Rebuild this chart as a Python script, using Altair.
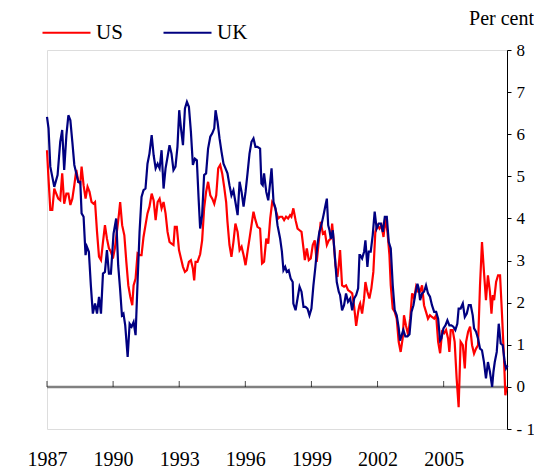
import altair as alt
import pandas as pd

# ---- data ----
uk_year = [1987.00, 1987.07, 1987.15, 1987.33, 1987.48, 1987.60, 1987.69, 1987.78, 1987.88, 1987.97,
           1988.06, 1988.15, 1988.24, 1988.33, 1988.42, 1988.51, 1988.57, 1988.66, 1988.75, 1988.81,
           1988.90, 1988.99, 1989.08, 1989.18, 1989.27, 1989.36, 1989.45, 1989.54, 1989.63, 1989.72,
           1989.81, 1989.90, 1990.02, 1990.14, 1990.23, 1990.32,
           1990.40, 1990.47, 1990.55, 1990.66, 1990.75, 1990.84, 1990.93, 1991.02, 1991.11, 1991.20,
           1991.29, 1991.38, 1991.47, 1991.56, 1991.65, 1991.75, 1991.84, 1991.93, 1992.02, 1992.11,
           1992.20, 1992.29, 1992.38, 1992.47, 1992.56, 1992.65, 1992.74, 1992.83, 1992.92, 1993.00,
           1993.08, 1993.17, 1993.26, 1993.35, 1993.44, 1993.53, 1993.62, 1993.71, 1993.80, 1993.88,
           1993.95,
           1994.04, 1994.13, 1994.22, 1994.31, 1994.41, 1994.50, 1994.59, 1994.65, 1994.74, 1994.83,
           1994.92, 1995.01, 1995.10, 1995.19, 1995.28, 1995.37, 1995.46, 1995.55, 1995.65, 1995.74,
           1995.83, 1995.92, 1996.01, 1996.10, 1996.19, 1996.28, 1996.37, 1996.46, 1996.55, 1996.67,
           1996.73, 1996.79, 1996.85, 1996.95, 1997.04, 1997.13, 1997.19, 1997.28, 1997.37, 1997.46,
           1997.55,
           1997.58, 1997.66, 1997.73, 1997.81, 1997.88, 1997.97, 1998.06, 1998.15, 1998.18, 1998.28,
           1998.37, 1998.46, 1998.55, 1998.64, 1998.73, 1998.82, 1998.91, 1999.00, 1999.09, 1999.18,
           1999.27, 1999.36, 1999.45, 1999.55, 1999.64, 1999.70, 1999.76, 1999.82, 1999.88, 1999.97,
           2000.06, 2000.15, 2000.24, 2000.30, 2000.39, 2000.48, 2000.57, 2000.66, 2000.76, 2000.85,
           2000.94, 2001.03, 2001.12, 2001.18,
           2001.21, 2001.30, 2001.39, 2001.45, 2001.54, 2001.60, 2001.69, 2001.78, 2001.87, 2001.96,
           2002.06, 2002.15, 2002.24, 2002.33, 2002.42, 2002.51, 2002.60, 2002.69, 2002.78, 2002.87,
           2002.96, 2003.02, 2003.08, 2003.17, 2003.26, 2003.36, 2003.45, 2003.54, 2003.63, 2003.72,
           2003.81, 2003.87, 2003.93, 2004.02, 2004.11, 2004.20, 2004.29, 2004.38, 2004.47, 2004.57,
           2004.66, 2004.75, 2004.84,
           2004.90, 2004.99, 2005.08, 2005.17, 2005.26, 2005.35, 2005.44, 2005.53, 2005.62, 2005.68,
           2005.77, 2005.87, 2005.96, 2006.05, 2006.14, 2006.23, 2006.32, 2006.38, 2006.47, 2006.56,
           2006.65, 2006.74, 2006.83, 2006.92, 2007.01, 2007.10, 2007.20, 2007.26, 2007.32, 2007.41,
           2007.50, 2007.59, 2007.68, 2007.77, 2007.83, 2007.90]
uk_value = [6.41, 6.14, 5.23, 4.75, 5.03, 5.82, 6.10, 5.15, 5.98, 6.45,
            6.33, 5.82, 5.27, 5.07, 4.87, 4.87, 4.12, 4.04, 3.13, 3.33,
            3.21, 2.41, 1.74, 1.98, 1.74, 2.14, 1.74, 2.69, 2.73, 3.25,
            2.69, 2.69, 3.64, 4.00, 2.89, 2.30,
            1.70, 1.74, 1.46, 0.71, 1.50, 1.43, 1.54, 1.23, 2.49, 3.68,
            4.51, 4.67, 4.71, 5.30, 5.54, 5.98, 5.50, 5.19, 5.30, 5.19,
            5.62, 4.71, 5.19, 5.46, 5.74, 5.54, 5.15, 5.23, 5.70, 6.57,
            6.14, 5.74, 6.61, 6.77, 6.65, 6.06, 5.27, 5.42, 5.38, 4.47,
            3.76,
            4.08, 5.03, 5.07, 5.66, 5.94, 6.02, 6.14, 6.57, 6.29, 5.90,
            5.58, 5.30, 5.19, 5.07, 4.79, 4.55, 4.67, 4.39, 4.08, 4.87,
            4.63, 4.28, 4.63, 5.07, 5.54, 5.82, 5.90, 5.70, 5.70, 5.66,
            4.83, 4.79, 5.07, 4.63, 4.43, 4.87, 5.19, 4.39, 4.24, 3.84,
            3.60,
            3.52, 3.21, 2.77, 2.85, 2.73, 2.77, 2.57, 2.49, 1.98, 1.82,
            2.10, 2.38, 2.26, 1.90, 1.90, 1.86, 1.70, 1.86, 2.41, 2.85,
            3.37, 3.68, 3.84, 4.08, 4.32, 4.47, 3.84, 3.72, 3.52, 3.72,
            3.13, 2.49, 2.26, 2.18, 1.82, 1.94, 2.22, 2.02, 2.10, 1.82,
            2.10, 2.18, 2.34, 3.13,
            3.13, 3.05, 3.21, 3.48, 2.85, 3.21, 3.21, 3.60, 4.16, 3.76,
            3.88, 3.88, 3.68, 4.04, 4.04, 3.44, 3.29, 2.41, 1.82, 1.70,
            1.40, 1.10, 1.20, 1.35, 1.20, 1.20, 1.25, 1.78, 1.94, 2.22,
            2.45, 2.34, 2.06, 2.22, 2.26, 2.41, 2.22, 2.14, 1.94, 1.78,
            1.78, 1.62, 1.10,
            1.15, 1.39, 1.46, 1.58, 1.46, 1.46, 1.43, 1.35, 1.50, 1.86,
            1.86, 1.98, 1.66, 1.74, 1.94, 1.94, 1.70, 1.39, 1.31, 1.15,
            0.91, 0.87, 0.59, 0.20, 0.59, 0.36, 0.00, 0.36, 0.59, 0.83,
            1.50, 1.03, 0.99, 0.59, 0.44, 0.51]

us_year = [1987.00, 1987.06, 1987.15, 1987.24, 1987.33, 1987.42, 1987.51, 1987.60, 1987.69, 1987.78,
           1987.88, 1987.97, 1988.06, 1988.15, 1988.24, 1988.33, 1988.42, 1988.51, 1988.57, 1988.66,
           1988.75, 1988.84, 1988.93, 1989.02, 1989.11, 1989.18, 1989.27, 1989.36, 1989.45, 1989.54,
           1989.63, 1989.72, 1989.81, 1989.90, 1989.99, 1990.08, 1990.17, 1990.26, 1990.32,
           1990.41, 1990.51, 1990.60, 1990.69, 1990.78, 1990.87, 1990.93, 1991.02, 1991.11, 1991.20,
           1991.29, 1991.38, 1991.47, 1991.56, 1991.65, 1991.75, 1991.84, 1991.93, 1992.02, 1992.11,
           1992.20, 1992.29, 1992.38, 1992.47, 1992.56, 1992.65, 1992.74, 1992.80, 1992.89, 1992.99,
           1993.08, 1993.17, 1993.26, 1993.35, 1993.44, 1993.53, 1993.62, 1993.68, 1993.74, 1993.83,
           1993.95,
           1994.04, 1994.13, 1994.22, 1994.31, 1994.41, 1994.50, 1994.59, 1994.68, 1994.77, 1994.86,
           1994.95, 1995.04, 1995.13, 1995.19, 1995.28, 1995.37, 1995.46, 1995.55, 1995.65, 1995.74,
           1995.83, 1995.92, 1996.01, 1996.10, 1996.19, 1996.28, 1996.37, 1996.46, 1996.55, 1996.67,
           1996.76, 1996.85, 1996.95, 1997.04, 1997.13, 1997.22, 1997.31, 1997.40, 1997.49, 1997.58,
           1997.67, 1997.76, 1997.85, 1997.94, 1998.03, 1998.09, 1998.18, 1998.28, 1998.37, 1998.46,
           1998.55, 1998.64, 1998.70, 1998.79, 1998.88, 1998.97, 1999.06, 1999.15, 1999.24, 1999.33,
           1999.42, 1999.52, 1999.61, 1999.70, 1999.79, 1999.88, 1999.94, 2000.00, 2000.09, 2000.18,
           2000.24, 2000.30, 2000.39, 2000.48, 2000.57, 2000.66, 2000.76, 2000.85, 2000.94, 2001.03,
           2001.12, 2001.18,
           2001.21, 2001.30, 2001.39, 2001.45, 2001.54, 2001.63, 2001.72, 2001.81, 2001.90, 2001.99,
           2002.09, 2002.18, 2002.27, 2002.36, 2002.45, 2002.54, 2002.60, 2002.69, 2002.78, 2002.87,
           2002.96, 2003.05, 2003.14, 2003.20, 2003.29, 2003.39, 2003.48, 2003.57, 2003.66, 2003.75,
           2003.84, 2003.93, 2004.02, 2004.11, 2004.20, 2004.29, 2004.38, 2004.47, 2004.57, 2004.66,
           2004.75, 2004.84,
           2004.93, 2005.02, 2005.11, 2005.20, 2005.26, 2005.32, 2005.41, 2005.50, 2005.59, 2005.68,
           2005.77, 2005.87, 2005.96, 2006.02, 2006.11, 2006.20, 2006.29, 2006.38, 2006.47, 2006.56,
           2006.65, 2006.74, 2006.83, 2006.92, 2007.01, 2007.10, 2007.17, 2007.23, 2007.29, 2007.38,
           2007.47, 2007.56, 2007.65, 2007.74, 2007.80, 2007.86]
us_value = [5.62, 5.03, 4.20, 4.20, 4.71, 4.59, 4.47, 4.43, 5.07, 4.35,
            4.59, 4.59, 4.32, 4.47, 4.79, 5.15, 4.87, 4.83, 5.23, 4.79,
            4.47, 4.75, 4.63, 4.39, 4.35, 4.39, 3.68, 3.09, 3.01, 3.44,
            3.84, 3.52, 3.29, 3.21, 3.05, 3.29, 3.68, 4.08, 4.39,
            3.84, 3.60, 2.97, 2.41, 2.14, 1.94, 2.41, 2.57, 3.17, 3.13,
            3.13, 3.56, 3.84, 4.12, 4.28, 4.59, 4.43, 3.96, 4.39, 4.47,
            4.24, 4.39, 4.12, 3.68, 3.44, 3.40, 3.37, 3.80, 3.80, 3.25,
            3.05, 2.85, 2.73, 2.77, 2.97, 3.01, 2.81, 2.53, 2.97, 2.97,
            3.15,
            3.48, 4.24, 4.63, 4.87, 4.55, 4.47, 4.35, 4.55, 5.19, 5.27,
            5.07, 4.75, 4.39, 3.92, 3.37, 3.09, 3.44, 3.88, 3.68, 3.25,
            3.33, 3.13, 2.89, 3.21, 3.52, 3.84, 4.16, 3.96, 3.80, 3.76,
            2.93, 2.97, 3.52, 3.40, 4.00, 4.39, 4.32, 4.16, 4.00, 4.04,
            4.04, 3.96, 4.04, 4.00, 4.08, 4.04, 4.24, 3.96, 3.76, 3.72,
            3.68, 3.29, 3.01, 3.29, 3.01, 3.05, 3.37, 3.48, 2.97, 3.44,
            3.92, 3.64, 3.68, 3.37, 3.48, 3.52, 3.88, 3.52, 2.89, 2.61,
            2.89, 3.25, 2.41, 2.38, 2.41, 2.30, 2.26, 2.22, 1.90, 1.45,
            1.78, 1.94,
            1.98, 1.74, 2.10, 2.49, 2.26, 2.10, 2.34, 2.73, 3.68, 3.84,
            3.76, 3.84, 3.56, 4.00, 3.68, 3.13, 2.41, 1.86, 1.78, 1.62,
            1.07, 0.83, 1.15, 1.70, 1.46, 1.23, 1.62, 2.22, 2.10, 2.38,
            2.26, 2.26, 2.41, 1.94, 1.78, 1.62, 1.70, 1.66, 1.62, 1.70,
            1.07, 0.80,
            1.31, 1.27, 1.35, 1.15, 0.83, 1.35, 1.35, 1.07, 0.20, -0.48,
            1.07, 0.99, 0.44, 1.07, 1.31, 1.43, 0.99, 0.79, 0.91, 0.99,
            2.41, 3.44, 2.73, 2.06, 2.65, 2.26, 1.74, 2.18, 2.06, 2.49,
            2.65, 2.65, 1.70, 0.67, -0.20, 0.00]

series_names = ["US", "UK"]
series_colors = ["#FF0000", "#000080"]
tick_years = [1987, 1990, 1993, 1996, 1999, 2002, 2005]
x_domain = [1987, 2007.875]
y_domain = [-1, 8]
y_ticks = [-1, 0, 1, 2, 3, 4, 5, 6, 7, 8]

df = pd.concat([
    pd.DataFrame({"year": us_year, "value": us_value, "series": "US"}),
    pd.DataFrame({"year": uk_year, "value": uk_value, "series": "UK"}),
])
df["order"] = df["series"].map({"US": 0, "UK": 1})
ticks_df = pd.DataFrame({"year": tick_years})

FONT = "Liberation Serif"
W, H = 460, 379

x_scale = alt.Scale(domain=x_domain, nice=False, zero=False)
y_scale = alt.Scale(domain=y_domain, nice=False, zero=False)

lines = alt.Chart(df).mark_line(strokeWidth=2.2).encode(
    x=alt.X("year:Q", scale=x_scale,
            axis=alt.Axis(values=tick_years, format="d", title=None, domain=False,
                          ticks=False, tickSize=0, grid=False, labelFont=FONT,
                          labelFontSize=20, labelColor="black", labelPadding=20,
                          labelFlush=False)),
    y=alt.Y("value:Q", scale=y_scale,
            axis=alt.Axis(orient="right", values=y_ticks, grid=False, domainColor="black",
                          domainWidth=1, tickColor="black", tickSize=4, labelPadding=5,
                          labelFont=FONT, labelFontSize=17, labelColor="black",
                          labelAlign="left",
                          labelExpr="datum.value < 0 ? '- ' + format(-datum.value, 'd') : format(datum.value, 'd')",
                          title="Per cent", titleAngle=0, titleFont=FONT,
                          titleFontSize=20, titleFontWeight="normal", titleColor="black",
                          titleAlign="center", titleBaseline="alphabetic",
                          titleX=-6, titleY=-26)),
    color=alt.Color("series:N",
                    scale=alt.Scale(domain=series_names, range=series_colors),
                    legend=alt.Legend(orient="none", direction="horizontal", title=None,
                                      legendX=-6, legendY=-43, symbolType="stroke",
                                      symbolSize=2304, symbolStrokeWidth=2.2,
                                      labelFont=FONT, labelFontSize=21, labelColor="black",
                                      labelOffset=4, columnPadding=36, symbolOffset=0,
                                      padding=0)),
    detail="series:N",
    order="order:Q",
)

zero_line = alt.Chart(pd.DataFrame({"y": [0]})).mark_rule(
    color="#808080", strokeWidth=2.5).encode(
    y=alt.Y("y:Q", scale=y_scale),
    x=alt.datum(x_domain[0]),
    x2=alt.datum(x_domain[1]),
)

zero_ticks = alt.Chart(ticks_df).mark_tick(
    orient="vertical", color="black", thickness=1, size=6, yOffset=-3).encode(
    x=alt.X("year:Q", scale=x_scale),
    y=alt.datum(0),
)

chart = alt.layer(zero_line, zero_ticks, lines).properties(
    width=W, height=H,
    autosize=alt.AutoSizeParams(type="none"),
    padding={"left": 39, "top": 42, "right": 27, "bottom": 44},
).configure_view(stroke=None).configure(background="white")

chart.save("out.html", embed_options={"renderer": "svg", "actions": False})
